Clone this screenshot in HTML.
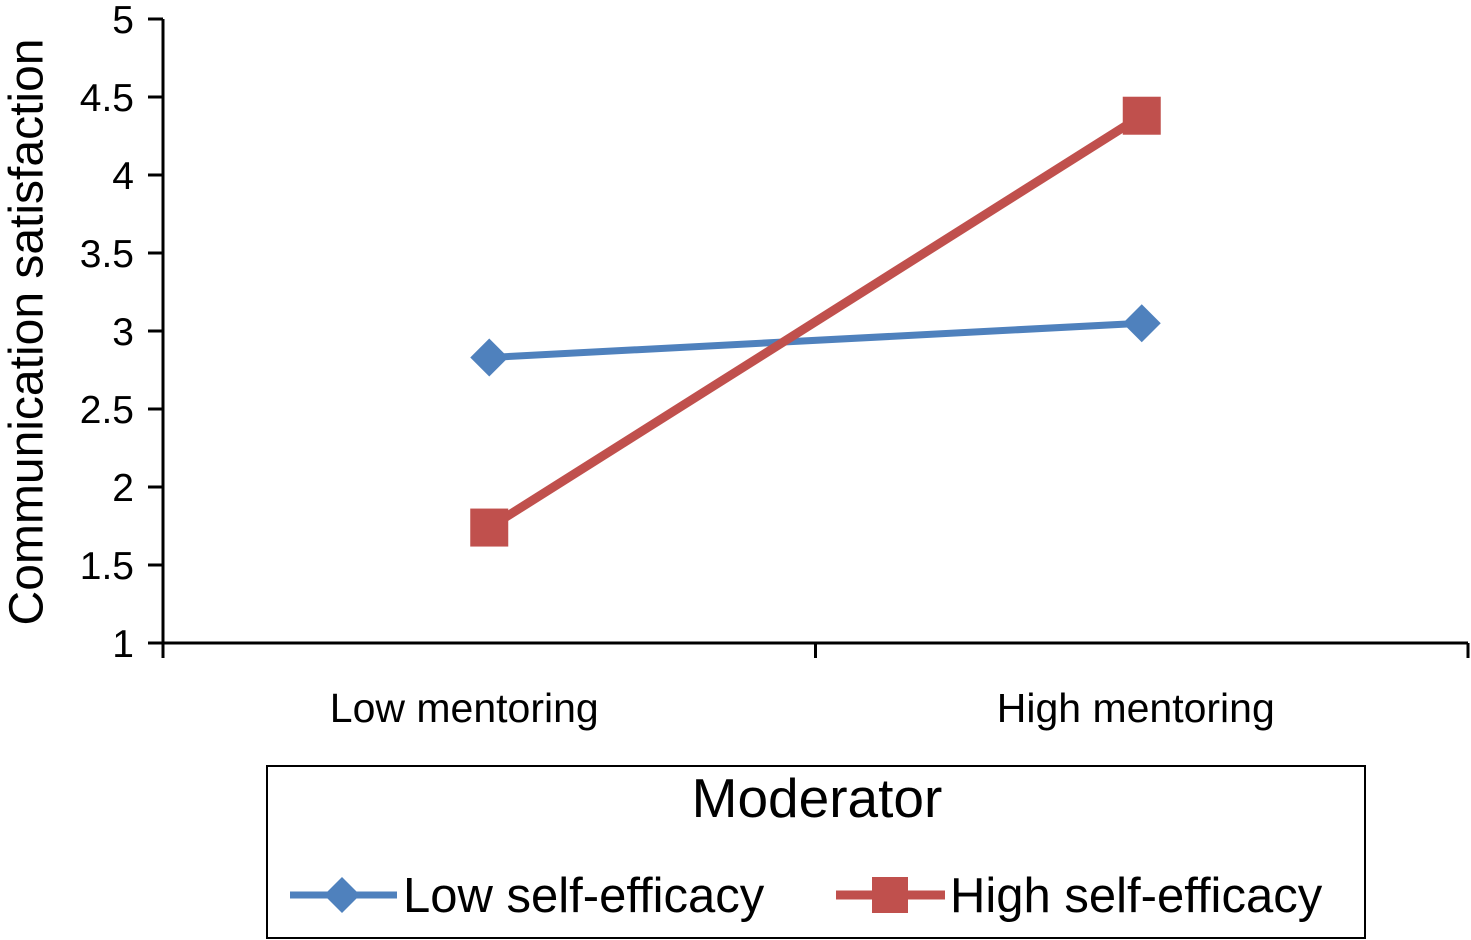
<!DOCTYPE html>
<html><head><meta charset="utf-8"><style>
body{margin:0;background:#fff;}
svg{display:block;font-family:"Liberation Sans",Arial,sans-serif;}
</style></head><body>
<svg id="chart" width="1471" height="940">
<g id="axes"></g>
<g id="series"></g>
<text x="27" y="332" font-size="48" text-anchor="middle" transform="rotate(-90 27 332)" dominant-baseline="central">Communication satisfaction</text>
<g>
<rect x="267" y="766" width="1098" height="172" fill="none" stroke="#000" stroke-width="2"/>
<text x="817" y="817" font-size="55" text-anchor="middle">Moderator</text>
<g>
<line x1="290" y1="895" x2="397" y2="895" stroke="#4f81bd" stroke-width="7"/>
<polygon points="342,877 360,895 342,913 324,895" fill="#4f81bd"/>
<text x="403" y="912" font-size="49">Low self-efficacy</text>
</g>
<g>
<line x1="836" y1="895" x2="945" y2="895" stroke="#c0504d" stroke-width="9"/>
<rect x="872" y="877" width="36" height="36" fill="#c0504d"/>
<text x="950" y="912" font-size="49">High self-efficacy</text>
</g>
</g>
</svg>
<script>
const categories=["Low mentoring","High mentoring"];
const lowSelfEfficacy=[2.83,3.05];
const highSelfEfficacy=[1.74,4.38];
const yTicks=[1,1.5,2,2.5,3,3.5,4,4.5,5];
const yTickLabels=["1","1.5","2","2.5","3","3.5","4","4.5","5"];
const NS="http://www.w3.org/2000/svg";
const x0=163,x1=1468,yTop=19,yBot=643,yMin=1,yMax=5;
const y=v=>yBot-(v-yMin)/(yMax-yMin)*(yBot-yTop);
const band=(x1-x0)/categories.length;
const x=i=>x0+band*(i+0.5);
function mk(tag,attrs,parent){const e=document.createElementNS(NS,tag);for(const k in attrs)e.setAttribute(k,attrs[k]);parent.appendChild(e);return e;}
const axes=document.getElementById('axes');
let a=mk('line',{x1:x0,y1:yTop,x2:x0,y2:yBot,stroke:'#000','stroke-width':3},axes);


a=mk('line',{x1:x0,y1:yBot,x2:x1,y2:yBot,stroke:'#000','stroke-width':3},axes);


yTicks.forEach((t,i)=>{
 const tk=mk('line',{x1:148,y1:y(t),x2:x0,y2:y(t),stroke:'#000','stroke-width':3},axes);
 
 
 const lb=mk('text',{x:134,y:y(t)+14,'font-size':39,'text-anchor':'end'},axes);
 lb.textContent=yTickLabels[i];
 
 
});
for(let i=0;i<=categories.length;i++){
 const tk=mk('line',{x1:x0+band*i,y1:yBot,x2:x0+band*i,y2:658,stroke:'#000','stroke-width':3},axes);
 
 
}
categories.forEach((c,i)=>{
 const lb=mk('text',{x:x(i)-25+19*i,y:722,'font-size':41,'text-anchor':'middle'},axes);
 lb.textContent=c;
 
 
});
const ser=document.getElementById('series');
let l=mk('polyline',{points:lowSelfEfficacy.map((v,i)=>x(i)+','+y(v)).join(' '),fill:'none',stroke:'#4f81bd','stroke-width':7},ser);


l=mk('polyline',{points:highSelfEfficacy.map((v,i)=>x(i)+','+y(v)).join(' '),fill:'none',stroke:'#c0504d','stroke-width':9},ser);


lowSelfEfficacy.forEach((v,i)=>{
 const cx=x(i),cy=y(v);
 const p=mk('polygon',{points:`${cx},${cy-19} ${cx+19},${cy} ${cx},${cy+19} ${cx-19},${cy}`,fill:'#4f81bd'},ser);
 
 
});
highSelfEfficacy.forEach((v,i)=>{
 const p=mk('rect',{x:x(i)-19,y:y(v)-19,width:38,height:38,fill:'#c0504d'},ser);
 
 
});
</script>
</body></html>
